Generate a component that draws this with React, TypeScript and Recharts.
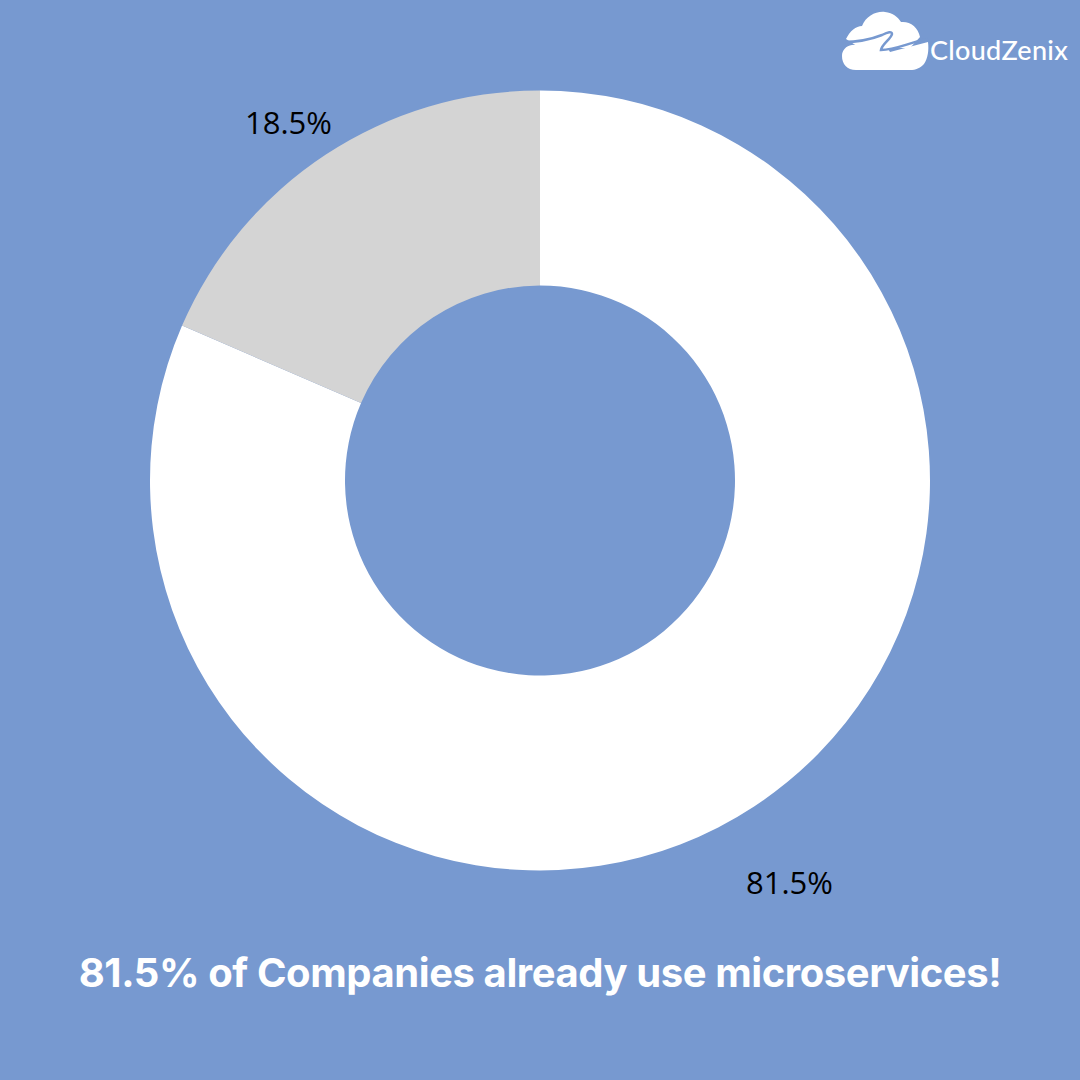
import { PieChart, Pie, Cell } from "recharts";

const segments = ["Use microservices", "Others"];
const shares = [81.5, 18.5];
const sliceColors = ["#ffffff", "#d4d4d4"];
const shareLabels = ["81.5%", "18.5%"];
const labelSpots = [
  { left: 746, top: 865 },
  { left: 245, top: 105 },
];

const data = segments.map((name, i) => ({ name, value: shares[i] }));
const textFont = "Inter, 'Open Sans', sans-serif";
const labelFont = "'Open Sans', sans-serif";
const bg = "#7799d0";

function Logo() {
  return (
    <div style={{ position: "absolute", left: 0, top: 0, width: 1080, height: 80 }}>
      <svg width={90} height={72} style={{ position: "absolute", left: 840, top: 6 }}>
        {/* cloud top lobes */}
        <path d="M 6 33 C 10 25 16 20 22 20 C 26 10 36 5 45 6 C 53 7 58 11 61 16 C 70 15 78 21 80 31 L 70 42 L 20 42 Z" fill="#fff" />
        {/* cloud lower body */}
        <path d="M 16 64 C 7 64 2 58 2 50 C 2 44 6 40 12 39 L 44 36 L 50 46 L 88 36 C 89 44 88 52 84 58 C 80 62 76 64 70 64 Z" fill="#fff" />
        {/* swoosh */}
        <path d="M 3 36 C 20 36 32 33 42 29 C 48 26 52 25 52 28 C 51 33 42 38 41 44 C 56 44 70 36 88 33" fill="none" stroke={bg} strokeWidth={2.5} />
      </svg>
      <div style={{ position: "absolute", left: 930, top: 33, color: "#fff", fontFamily: "Lato, sans-serif", fontSize: 27, fontWeight: 500, letterSpacing: 0.3, whiteSpace: "nowrap" }}>
        CloudZenix
      </div>
    </div>
  );
}

export default function App() {
  return (
    <div style={{ position: "fixed", left: 0, top: 0, width: 1080, height: 1080, background: bg, overflow: "hidden" }}>
      <PieChart width={1080} height={1080} margin={{ top: 0, right: 0, bottom: 0, left: 0 }}>
        <Pie
          data={data}
          dataKey="value"
          nameKey="name"
          cx={540}
          cy={480.5}
          innerRadius={195}
          outerRadius={390}
          startAngle={90}
          endAngle={-270}
          stroke="none"
          isAnimationActive={false}
        >
          {data.map((d, i) => (
            <Cell key={d.name} fill={sliceColors[i]} />
          ))}
        </Pie>
      </PieChart>
      {shareLabels.map((t, i) => (
        <div key={t} style={{ position: "absolute", left: labelSpots[i].left, top: labelSpots[i].top, color: "#000", fontFamily: labelFont, fontSize: 31, lineHeight: "34px", whiteSpace: "nowrap" }}>
          {t}
        </div>
      ))}
      <div style={{ position: "absolute", left: 0, width: 1080, top: 948, textAlign: "center", color: "#fff", fontFamily: textFont, fontSize: 40, fontWeight: 700, letterSpacing: -0.42, lineHeight: "50px", whiteSpace: "nowrap" }}>
        81.5% of Companies already use microservices!
      </div>
      <Logo />
    </div>
  );
}
